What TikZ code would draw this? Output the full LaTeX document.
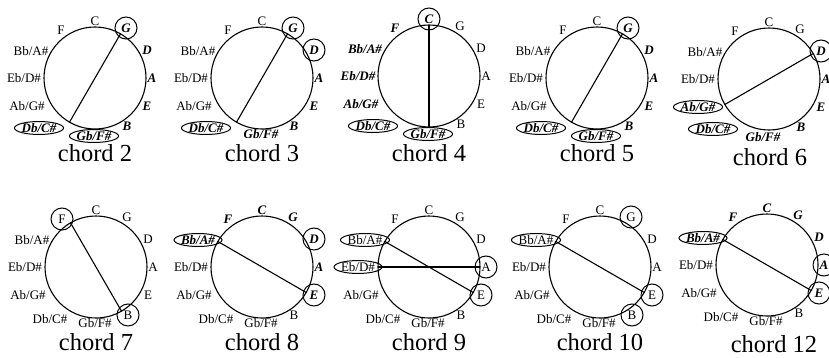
\documentclass[tikz,border=0pt]{standalone}
\usepackage{fontspec}
\setmainfont{Liberation Serif}
\usetikzlibrary{shapes.geometric,calc}
\def\ntC{C}\def\ntG{G}\def\ntD{D}\def\ntA{A}\def\ntE{E}\def\ntB{B}
\def\ntGb{Gb/F\#}\def\ntDb{Db/C\#}\def\ntAb{Ab/G\#}\def\ntEb{Eb/D\#}\def\ntBb{Bb/A\#}\def\ntF{F}
\tikzset{
  wheel/.style={draw, circle, minimum size=102pt, inner sep=0pt, line width=1.1pt},
  lbl/.style={inner sep=0.6pt, font=\fontsize{13}{14}\selectfont},
  nr/.style={lbl},
  ni/.style={lbl, font=\fontsize{13}{14}\selectfont\bfseries\itshape},
  hc/.style={draw, circle, minimum size=22pt, inner sep=0pt, line width=1pt},
  he/.style={draw, ellipse, inner sep=0pt, line width=1pt},
  nic/.style={ni,hc}, nie/.style={ni,he}, nrc/.style={nr,hc}, nre/.style={nr,he},
  nieDb/.style={nie, xshift=-10pt, yshift=2pt},
  nieGb/.style={nie, yshift=1pt},
  niGb/.style={ni, yshift=3pt},
  nrGb/.style={nr, yshift=3pt},
  e6Gb/.style={ni, xshift=-5pt, yshift=1pt},
  e6Ab/.style={nie, xshift=-3pt},
  chordline/.style={line width=1.1pt},
  captext/.style={anchor=base, font=\fontsize{24.5}{25}\selectfont, inner sep=0pt},
}
% #1 id, #2 x, #3 y, #4 caption number, #5 caption offset
\newcommand\wheelpanel[5]{%
  \node[wheel] (w#1) at (#2,#3) {};
  \foreach \k/\a in {C/90,G/60,D/30,A/0,E/-30,B/-60,Gb/-90,Db/-120,Ab/-150,Eb/180,Bb/150,F/120}
    {\coordinate (#1c\k) at ($(w#1.center)+(\a:51)$);}
  \foreach \k/\dx/\dy in {C/0/57,G/31/50,D/52/28,A/57/0,E/52/-28,B/32/-48,Gb/-1/-59,Db/-46/-52,Ab/-68/-28,Eb/-71/0,Bb/-64/27,F/-34/48}
    {\coordinate (#1p\k) at ($(w#1.center)+(\dx,\dy)$);}
  \node[captext] (cap#1) at ($(w#1.center)+(#5)$) {chord #4};
}
\newcommand\wheellabels[2]{\foreach \k/\s in {#2}{\node[\s] (#1l\k) at (#1p\k) {\csname nt\k\endcsname};}}
\begin{document}
\begin{tikzpicture}[x=1pt,y=1pt]
\useasboundingbox (0,0) rectangle (829,357);
\clip (0,0) rectangle (829,357);
% top row
\wheelpanel{a}{95}{279}{2}{0,-83}
\wheelpanel{b}{262}{279}{3}{0,-83}
\wheelpanel{c}{429}{281}{4}{0,-85}
\wheelpanel{d}{597}{279}{5}{0,-83}
\wheelpanel{e}{769}{278}{6}{1,-86}
% bottom row
\wheelpanel{f}{96}{90}{7}{0,-83}
\wheelpanel{g}{262}{90}{8}{0,-83}
\wheelpanel{h}{429}{90}{9}{0,-83}
\wheelpanel{i}{600}{90}{10}{0,-83}
\wheelpanel{j}{767}{92}{12}{7,-87}
% labels
\wheellabels{a}{C/nr,G/nic,D/ni,A/ni,E/ni,B/ni,Gb/nieGb,Db/nieDb,Ab/nr,Eb/nr,Bb/nr,F/nr}
\wheellabels{b}{C/nr,G/nic,D/nic,A/ni,E/ni,B/ni,Gb/niGb,Db/nieDb,Ab/nr,Eb/nr,Bb/nr,F/nr}
\wheellabels{c}{C/nic,G/nr,D/nr,A/nr,E/nr,B/nr,Gb/nieGb,Db/nieDb,Ab/ni,Eb/ni,Bb/ni,F/ni}
\wheellabels{d}{C/nr,G/nic,D/ni,A/ni,E/ni,B/ni,Gb/nieGb,Db/nieDb,Ab/nr,Eb/nr,Bb/nr,F/nr}
\wheellabels{e}{C/nr,G/nr,D/nic,A/ni,E/ni,B/ni,Gb/e6Gb,Db/nieDb,Ab/e6Ab,Eb/nr,Bb/nr,F/nr}
\wheellabels{f}{C/nr,G/nr,D/nr,A/nr,E/nr,B/nrc,Gb/nrGb,Db/nr,Ab/nr,Eb/nr,Bb/nr,F/nrc}
\wheellabels{g}{C/ni,G/ni,D/nic,A/ni,E/nic,B/nr,Gb/nrGb,Db/nr,Ab/nr,Eb/nr,Bb/nie,F/ni}
\wheellabels{h}{C/nr,G/nr,D/nr,A/nrc,E/nrc,B/nr,Gb/nrGb,Db/nr,Ab/nr,Eb/nre,Bb/nre,F/nr}
\wheellabels{i}{C/nr,G/nrc,D/nr,A/nr,E/nrc,B/nrc,Gb/nrGb,Db/nr,Ab/nr,Eb/nr,Bb/nre,F/nr}
\wheellabels{j}{C/ni,G/ni,D/ni,A/nic,E/nic,B/nr,Gb/nrGb,Db/nr,Ab/nr,Eb/nr,Bb/nie,F/ni}
% chord lines
\draw[chordline] (acG) -- (acDb);
\draw[chordline] (bcG) -- (bcDb);
\draw[chordline] (ccC) -- (ccGb);
\draw[chordline] (dcG) -- (dcDb);
\draw[chordline] (ecD) -- (ecAb);
\draw[chordline] (fcF) -- (fcB);
\draw[chordline] (gcBb) -- (gcE);
\draw[chordline] (hcBb) -- (hcE);
\draw[chordline] (hcEb) -- (hcA);
\draw[chordline] (icBb) -- (icE);
\draw[chordline] (jcBb) -- (jcE);
\end{tikzpicture}
\end{document}
